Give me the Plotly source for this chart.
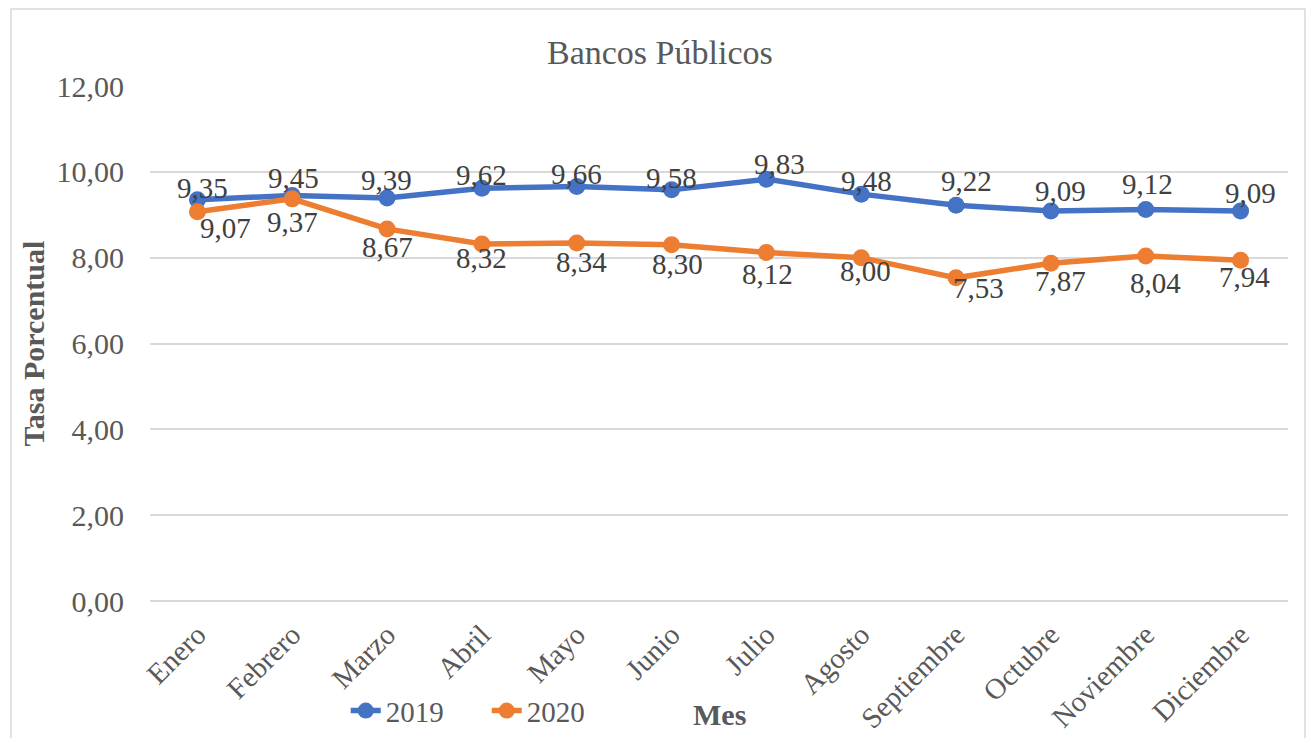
import plotly.graph_objects as go

meses = ["Enero", "Febrero", "Marzo", "Abril", "Mayo", "Junio", "Julio",
         "Agosto", "Septiembre", "Octubre", "Noviembre", "Diciembre"]
tasa_2019 = [9.35, 9.45, 9.39, 9.62, 9.66, 9.58, 9.83, 9.48, 9.22, 9.09, 9.12, 9.09]
tasa_2020 = [9.07, 9.37, 8.67, 8.32, 8.34, 8.30, 8.12, 8.00, 7.53, 7.87, 8.04, 7.94]
y_ticks = [0, 2, 4, 6, 8, 10, 12]

# desplazamiento (px) de cada etiqueta de dato respecto a su punto
desp_2019 = [(5, 12), (1, 17), (-1, 18), (0, 13), (0, 12), (0, 12),
             (13, 15), (5, 13), (10, 24), (10, 20), (2, 26), (10, 18)]
desp_2020 = [(28, -16), (0, -23), (0, -18), (0, -14), (5, -19), (6, -19),
             (1, -21), (4, -13), (22, -10), (10, -18), (10, -27), (4, -17)]

AZUL = "#4472C4"
NARANJA = "#ED7D31"
GRIS = "#595959"
TEXTO = "#404040"
FUENTE = "Times New Roman, Liberation Serif, serif"


def coma(v):
    return f"{v:.2f}".replace(".", ",")


fig = go.Figure()
for nombre, valores, color in (("2019", tasa_2019, AZUL), ("2020", tasa_2020, NARANJA)):
    fig.add_trace(go.Scatter(
        x=meses, y=valores, name=nombre, mode="lines+markers",
        line=dict(color=color, width=5.5), marker=dict(color=color, size=17),
        cliponaxis=False,
    ))

etiquetas = []
for valores, desp in ((tasa_2019, desp_2019), (tasa_2020, desp_2020)):
    for mes, v, (dx, dy) in zip(meses, valores, desp):
        etiquetas.append(dict(
            x=mes, y=v, xref="x", yref="y", text=coma(v), showarrow=False,
            xanchor="center", yanchor="middle", xshift=dx, yshift=dy,
            font=dict(family=FUENTE, size=29, color=TEXTO),
        ))

fig.update_layout(
    width=1311, height=738, autosize=False,
    margin=dict(l=150, r=23, t=86, b=137, autoexpand=False),
    paper_bgcolor="white", plot_bgcolor="white",
    font=dict(family=FUENTE, color=GRIS),
    showlegend=True,
    legend=dict(orientation="h", x=0.172, y=-0.213, xanchor="left", yanchor="middle",
                font=dict(family=FUENTE, size=29, color=GRIS),
                entrywidth=96, entrywidthmode="pixels",
                bgcolor="rgba(0,0,0,0)"),
    xaxis=dict(range=[-0.5, 11.5], showgrid=False, showline=False, ticks="",
               automargin=False, tickangle=-45, ticklabelstandoff=10,
               tickfont=dict(family=FUENTE, size=29, color=GRIS)),
    yaxis=dict(range=[0, 12], tickvals=y_ticks, ticktext=[coma(v) for v in y_ticks],
               showgrid=True, gridcolor="#D9D9D9", gridwidth=1.5, zeroline=True,
               zerolinecolor="#D9D9D9", zerolinewidth=1.5, showline=False, ticks="",
               ticklen=0, automargin=False, ticklabelstandoff=25,
               tickfont=dict(family=FUENTE, size=30, color=GRIS)),
    annotations=etiquetas + [
        dict(text="Bancos Públicos", xref="paper", yref="paper", x=0.448, y=1.065,
             xanchor="center", yanchor="middle", showarrow=False,
             font=dict(family=FUENTE, size=34, color=GRIS)),
        dict(text="<b>Tasa Porcentual</b>", xref="paper", yref="paper", x=-0.1028, y=0.5,
             textangle=-90, xanchor="center", yanchor="middle", showarrow=False,
             font=dict(family=FUENTE, size=30, color=GRIS)),
        dict(text="<b>Mes</b>", xref="paper", yref="paper", x=0.5, y=-0.22,
             xanchor="center", yanchor="middle", showarrow=False,
             font=dict(family=FUENTE, size=30, color=GRIS)),
    ],
    shapes=[dict(type="rect", xref="paper", yref="paper", x0=-0.1221, x1=1.0149,
                 y0=-0.3, y1=1.1495, line=dict(color="#D9D9D9", width=1.5),
                 fillcolor="rgba(0,0,0,0)", layer="below")],
)

fig.write_html("out.html")
